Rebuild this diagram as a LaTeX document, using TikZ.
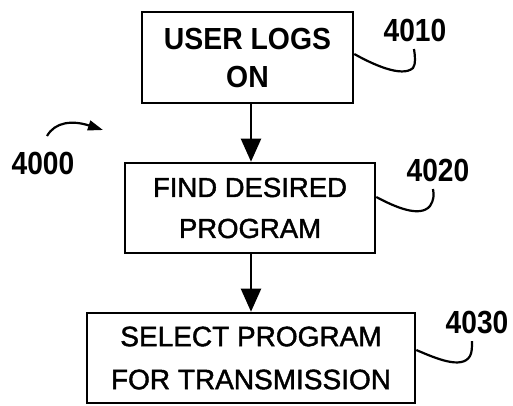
\documentclass[tikz,border=0pt]{standalone}
\usepackage{fontspec}
\setmainfont{Liberation Sans}
\newfontfamily\condfont[FakeStretch=0.93]{Liberation Sans}
\newfontfamily\medfont[FakeBold=1.5]{Liberation Sans}
\newfontfamily\numfont[FakeStretch=0.88]{Liberation Sans}
\usetikzlibrary{arrows.meta}
\begin{document}
\begin{tikzpicture}[x=1pt,y=-1pt,
  stepbox/.style={draw,line width=2.6pt,rectangle,align=center,inner sep=0pt},
  reflabel/.style={font=\numfont\bfseries\fontsize{32}{34}\selectfont,inner sep=0pt},
  flow/.style={line width=2.2pt,-{Triangle[width=20pt,length=23pt]}},
  leader/.style={line width=2.2pt}]
\useasboundingbox (0,0) rectangle (513,405);
\node[stepbox,minimum width=211pt,minimum height=91pt,font=\condfont\bfseries\fontsize{30.5}{38}\selectfont] (b1) at (247.5,57.5) {USER LOGS\\ON};
\node[stepbox,minimum width=250pt,minimum height=90pt,font=\medfont\fontsize{27.5}{41}\selectfont] (b2) at (250,208) {FIND DESIRED\\PROGRAM};
\node[stepbox,minimum width=328pt,minimum height=90pt,font=\medfont\fontsize{28}{43}\selectfont] (b3) at (251,358) {SELECT PROGRAM\\FOR TRANSMISSION};
\draw[flow] (b1.south -| 251,0) -- (b2.north -| 251,0);
\draw[flow] (b2.south -| 251,0) -- (b3.north -| 251,0);
\node[reflabel] (l1) at (415,30) {4010};
\node[reflabel] (l2) at (438,170) {4020};
\node[reflabel] (l3) at (477,322) {4030};
\node[reflabel] (l0) at (43,163) {4000};
\coordinate (c1) at (b1.east |- 0,54);
\coordinate (c2) at (b2.east |- 0,197);
\coordinate (c3) at (b3.east |- 0,350);
\draw[leader] (c1) .. controls (372,64) and (402,78) .. (413,68) .. controls (416,64) and (415,56) .. (414,49);
\draw[leader] (c2) .. controls (395,207) and (420,218) .. (430,206) .. controls (434,200) and (434,195) .. (433,189);
\draw[leader] (c3) .. controls (435,358) and (462,370) .. (470,356) .. controls (472,352) and (472,348) .. (472,341);
\coordinate (a0) at (47,136);
\coordinate (a1) at (103,130);
\draw[leader,-{Triangle[width=10pt,length=15pt]}] (a0) .. controls (55,122) and (72,120) .. (a1);
\end{tikzpicture}
\end{document}
